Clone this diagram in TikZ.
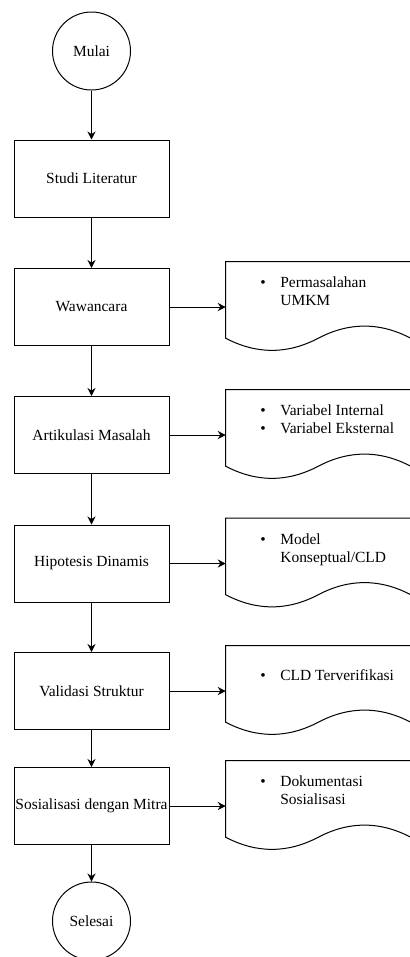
\documentclass[tikz,border=0pt]{standalone}
\usepackage{fontspec}
\setmainfont{Liberation Serif}
\usepackage{tikz}
\usetikzlibrary{shapes, arrows.meta}

\tikzset{
  proses/.style={draw, rectangle, line width=0.75pt, minimum width=116.25pt, minimum height=57.75pt, inner sep=0pt},
  terminal/.style={draw, circle, line width=0.75pt, minimum size=58.5pt, inner sep=0pt},
  dokumen/.style={rectangle, minimum width=138.75pt, minimum height=67.5pt, inner sep=0pt},
  isi/.style={anchor=west, inner sep=0pt, align=left},
  panah/.style={-{Stealth[length=6pt,width=6pt]}, line width=0.75pt},
}

\begin{document}
\begin{tikzpicture}[x=0.75pt,y=0.75pt,yscale=-1,xscale=1,font=\fontsize{11.6}{13.5}\selectfont]
\useasboundingbox (0,0) rectangle (410,957);
\clip (0,0) rectangle (410,957);

% Terminal Nodes
\node [terminal] (mulai) at (91.5,51) {Mulai};
\node [terminal] (selesai) at (91.5,921) {Selesai};

% Process Nodes
\node [proses] (studi) at (91.5,178.5) {Studi Literatur};
\node [proses] (wawancara) at (91.5,307) {Wawancara};
\node [proses] (artikulasi) at (91.5,435) {Artikulasi Masalah};
\node [proses] (hipotesis) at (91.5,563.5) {Hipotesis Dinamis};
\node [proses] (validasi) at (91.5,691) {Validasi Struktur};
\node [proses] (sosialisasi) at (91.5,806) {Sosialisasi dengan Mitra};

% Document Nodes
\node [dokumen] (dok1) at (318.5,307) {};
\node [dokumen] (dok2) at (318.5,435) {};
\node [dokumen] (dok3) at (318.5,563.5) {};
\node [dokumen] (dok4) at (318.5,691) {};
\node [dokumen] (dok5) at (318.5,806) {};

% Document outlines
\draw [line width=0.75pt, shift={(dok1.north west)}] (185,0) -- (0,0) -- (0,76.5) .. controls (30.83,92.7) and (61.67,92.7) .. (92.5,76.5) .. controls (123.33,60.3) and (154.17,60.3) .. (185,76.5) -- cycle;
\draw [line width=0.75pt, shift={(dok2.north west)}] (185,0) -- (0,0) -- (0,76.5) .. controls (30.83,92.7) and (61.67,92.7) .. (92.5,76.5) .. controls (123.33,60.3) and (154.17,60.3) .. (185,76.5) -- cycle;
\draw [line width=0.75pt, shift={(dok3.north west)}] (185,0) -- (0,0) -- (0,76.5) .. controls (30.83,92.7) and (61.67,92.7) .. (92.5,76.5) .. controls (123.33,60.3) and (154.17,60.3) .. (185,76.5) -- cycle;
\draw [line width=0.75pt, shift={(dok4.north west)}] (185,0) -- (0,0) -- (0,76.5) .. controls (30.83,92.7) and (61.67,92.7) .. (92.5,76.5) .. controls (123.33,60.3) and (154.17,60.3) .. (185,76.5) -- cycle;
\draw [line width=0.75pt, shift={(dok5.north west)}] (185,0) -- (0,0) -- (0,76.5) .. controls (30.83,92.7) and (61.67,92.7) .. (92.5,76.5) .. controls (123.33,60.3) and (154.17,60.3) .. (185,76.5) -- cycle;

% Text Nodes
\node [isi] (isi1) at (260,293) {\begin{tabular}{@{}l@{\hspace{11pt}}l@{}}\textbullet & Permasalahan\\ & UMKM\end{tabular}};
\node [isi] (isi2) at (260,421) {\begin{tabular}{@{}l@{\hspace{11pt}}l@{}}\textbullet & Variabel Internal\\ \textbullet & Variabel Eksternal\end{tabular}};
\node [isi] (isi3) at (260,549.5) {\begin{tabular}{@{}l@{\hspace{11pt}}l@{}}\textbullet & Model\\ & Konseptual/CLD\end{tabular}};
\node [isi] (isi4) at (260,677) {\begin{tabular}{@{}l@{\hspace{11pt}}l@{}}\textbullet & CLD Terverifikasi\end{tabular}};
\node [isi] (isi5) at (260,792) {\begin{tabular}{@{}l@{\hspace{11pt}}l@{}}\textbullet & Dokumentasi\\ & Sosialisasi\end{tabular}};

% Arrows
\draw [panah] (mulai) -- (studi);
\draw [panah] (studi) -- (wawancara);
\draw [panah] (wawancara) -- (artikulasi);
\draw [panah] (artikulasi) -- (hipotesis);
\draw [panah] (hipotesis) -- (validasi);
\draw [panah] (validasi) -- (sosialisasi);
\draw [panah] (sosialisasi) -- (selesai);
\draw [panah] (wawancara) -- (dok1);
\draw [panah] (artikulasi) -- (dok2);
\draw [panah] (hipotesis) -- (dok3);
\draw [panah] (validasi) -- (dok4);
\draw [panah] (sosialisasi) -- (dok5);

\end{tikzpicture}
\end{document}
